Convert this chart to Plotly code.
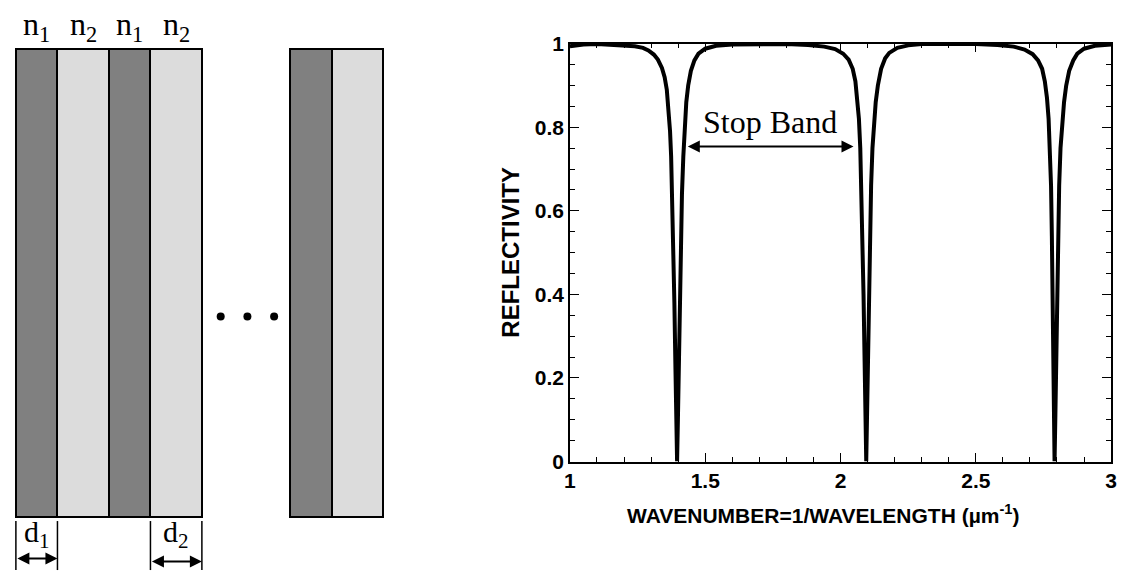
import plotly.graph_objects as go

# ---------------- data ----------------
wavenumber = [1.00, 1.05, 1.10, 1.15, 1.20, 1.24, 1.27, 1.29, 1.31, 1.325, 1.34, 1.35, 1.358, 1.365,
              1.37, 1.374, 1.378, 1.382, 1.386, 1.39, 1.393, 1.396, 1.399, 1.402, 1.406, 1.41, 1.414,
              1.419, 1.424, 1.43, 1.437, 1.447, 1.46, 1.475, 1.50, 1.54, 1.60, 1.70, 1.80, 1.88, 1.94,
              1.98, 2.01, 2.03, 2.045, 2.055, 2.062, 2.068, 2.073, 2.077, 2.081, 2.085, 2.089, 2.092,
              2.095, 2.098, 2.101, 2.105, 2.109, 2.113, 2.118, 2.124, 2.13, 2.138, 2.15, 2.165, 2.18,
              2.21, 2.25, 2.30, 2.40, 2.50, 2.58, 2.64, 2.68, 2.71, 2.73, 2.745, 2.755, 2.763, 2.769,
              2.774, 2.778, 2.781, 2.784, 2.787, 2.789, 2.791, 2.794, 2.797, 2.80, 2.804, 2.808, 2.813,
              2.82, 2.826, 2.834, 2.845, 2.86, 2.875, 2.90, 2.94, 3.00]
reflectivity = [0.994, 0.998, 0.999, 0.998, 0.997, 0.994, 0.99, 0.984, 0.974, 0.962, 0.942, 0.92, 0.89, 0.84,
                0.79, 0.73, 0.64, 0.52, 0.38, 0.22, 0.10, 0.0, 0.10, 0.22, 0.38, 0.52, 0.64,
                0.73, 0.80, 0.86, 0.90, 0.935, 0.96, 0.976, 0.988, 0.995, 0.998, 0.999, 0.999, 0.997, 0.993,
                0.987, 0.976, 0.962, 0.94, 0.91, 0.87, 0.82, 0.75, 0.66, 0.54, 0.40, 0.24, 0.11,
                0.0, 0.11, 0.24, 0.40, 0.54, 0.66, 0.75, 0.82, 0.86, 0.90, 0.94, 0.965, 0.978,
                0.99, 0.996, 0.999, 1.0, 0.999, 0.997, 0.993, 0.986, 0.975, 0.96, 0.94, 0.91, 0.87, 0.82,
                0.75, 0.66, 0.54, 0.40, 0.24, 0.11, 0.0, 0.11, 0.24, 0.40, 0.54, 0.66, 0.75,
                0.82, 0.86, 0.90, 0.935, 0.96, 0.976, 0.988, 0.995, 0.998]

x_tick_vals = [1, 1.5, 2, 2.5, 3]
x_tick_text = ["1", "1.5", "2", "2.5", "3"]
y_tick_vals = [0, 0.2, 0.4, 0.6, 0.8, 1]
y_tick_text = ["0", "0.2", "0.4", "0.6", "0.8", "1"]

stop_band = [1.43, 2.048]
stop_band_label = "Stop Band"

layer_names = ["n1", "n2", "n1", "n2", "n1", "n2"]
layer_group = [0, 0, 0, 0, 1, 1]
layer_thickness = {"n1": 42, "n2": 52}
layer_labels = {"n1": "n<sub>1</sub>", "n2": "n<sub>2</sub>"}
thickness_labels = {"n1": "d<sub>1</sub>", "n2": "d<sub>2</sub>"}

# ---------------- styling / geometry ----------------
W, H = 1128, 582
SANS = "Liberation Sans"
SERIF = "Liberation Serif"
layer_colors = {"n1": "#808080", "n2": "#dcdcdc"}
stack_start = 10
group_gap = 89
stack_top, stack_bottom = 38, 526

fig = go.Figure()

fig.add_trace(go.Scatter(x=wavenumber, y=reflectivity, mode="lines",
                         line=dict(color="black", width=4), xaxis="x", yaxis="y",
                         showlegend=False, hoverinfo="skip"))

centers, widths, colors = [], [], []
pos = stack_start
prev_group = 0
for name, grp in zip(layer_names, layer_group):
    if grp != prev_group:
        pos += group_gap
        prev_group = grp
    w = layer_thickness[name]
    centers.append(pos + w / 2)
    widths.append(w)
    colors.append(layer_colors[name])
    pos += w

fig.add_trace(go.Bar(x=centers, y=[stack_bottom - stack_top] * len(centers),
                     base=[stack_top] * len(centers), width=widths,
                     marker=dict(color=colors, line=dict(color="black", width=2)),
                     xaxis="x3", yaxis="y3", showlegend=False, hoverinfo="skip"))

gap_left = centers[3] + widths[3] / 2
dots_x = [gap_left + 19, gap_left + 46, gap_left + 73]
fig.add_trace(go.Scatter(x=dots_x, y=[317] * 3, mode="markers",
                         marker=dict(color="black", size=8), xaxis="x3", yaxis="y3",
                         showlegend=False, hoverinfo="skip"))

annotations = []
shapes = []
for i in range(4):
    annotations.append(dict(x=centers[i], y=15, xref="x3", yref="y3", text=layer_labels[layer_names[i]],
                            showarrow=False, font=dict(family=SERIF, size=32, color="black")))

for i in [0, 3]:
    left = centers[i] - widths[i] / 2
    right = centers[i] + widths[i] / 2
    for xv in (left, right):
        shapes.append(dict(type="line", xref="x3", yref="y3", x0=xv, x1=xv, y0=530, y1=581,
                           line=dict(color="black", width=1.5)))
    ay = 569 if i == 0 else 572
    annotations.append(dict(x=right, y=ay, ax=left, ay=ay, xref="x3", yref="y3", axref="x3", ayref="y3",
                            text="", showarrow=True, arrowside="end+start", arrowhead=2, arrowsize=1.2,
                            arrowwidth=2, arrowcolor="black", standoff=0, startstandoff=0))
    annotations.append(dict(x=(left + right) / 2, y=543, xref="x3", yref="y3",
                            text=thickness_labels[layer_names[i]], showarrow=False,
                            font=dict(family=SERIF, size=30, color="black")))

annotations.append(dict(x=stop_band[1], y=0.754, ax=stop_band[0], ay=0.754, xref="x", yref="y",
                        axref="x", ayref="y", text="", showarrow=True, arrowside="end+start",
                        arrowhead=2, arrowsize=1.2, arrowwidth=2, arrowcolor="black",
                        standoff=0, startstandoff=0))
annotations.append(dict(x=sum(stop_band) / 2, y=0.812, xref="x", yref="y", text=stop_band_label,
                        showarrow=False, font=dict(family=SERIF, size=32, color="black")))

annotations.append(dict(x=510 / W, y=1 - 250 / H, xref="paper", yref="paper", text="<b>REFLECTIVITY</b>",
                        xanchor="center", yanchor="middle",
                        textangle=-90, showarrow=False, font=dict(family=SANS, size=24, color="black")))
annotations.append(dict(x=826 / W, y=1 - 523 / H, xref="paper", yref="paper",
                        xanchor="center", yanchor="middle",
                        text="<b>WAVENUMBER=1/WAVELENGTH (µm<sup>-1</sup>)</b>",
                        showarrow=False, font=dict(family=SANS, size=21, color="black")))

axis_common = dict(showgrid=False, zeroline=False, showline=True, linecolor="black", linewidth=1.5,
                   mirror="allticks", ticks="inside", ticklen=9, tickwidth=1.2, tickcolor="black",
                   tickfont=dict(family=SANS, size=21, color="black", weight="bold"))

fig.update_layout(
    width=W, height=H, margin=dict(l=0, r=0, t=0, b=0),
    paper_bgcolor="white", plot_bgcolor="white",
    xaxis=dict(domain=[570 / W, 1117 / W], range=[1, 3], tickvals=x_tick_vals, ticktext=x_tick_text,
               minor=dict(dtick=0.1, tick0=1, ticks="inside", ticklen=5, tickwidth=1, tickcolor="black"),
               anchor="y", **axis_common),
    yaxis=dict(domain=[1 - 468 / H, 1 - 33 / H], range=[0, 1], tickvals=y_tick_vals, ticktext=y_tick_text,
               minor=dict(dtick=0.05, tick0=0, ticks="inside", ticklen=5, tickwidth=1, tickcolor="black"),
               anchor="x", **axis_common),
    xaxis3=dict(domain=[0, 0.5], range=[0, W * 0.5], visible=False, fixedrange=True, anchor="y3"),
    yaxis3=dict(domain=[0, 1], range=[H, 0], visible=False, fixedrange=True, anchor="x3"),
    annotations=annotations, shapes=shapes, bargap=0,
)

fig.write_html("out.html", config={"displayModeBar": False},
               post_script="document.body.style.margin='0px';document.body.style.overflow='hidden';")
